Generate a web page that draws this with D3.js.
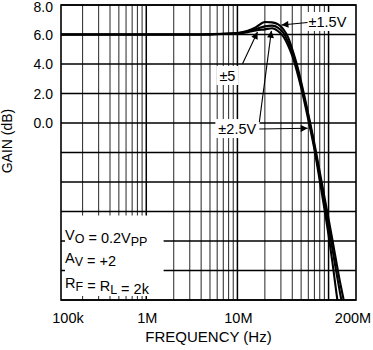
<!DOCTYPE html>
<html><head><meta charset="utf-8">
<script src="https://cdn.jsdelivr.net/npm/d3@7"></script>
<style>
body{margin:0;background:#fff;}
text{font-family:"Liberation Sans",Arial,Helvetica,sans-serif;fill:#000;}
</style></head>
<body><svg id="c" width="373" height="350"></svg>
<script>
// ---- data ----
const freqs = [116e3,1e6,3e6,5e6,7e6,10e6,13e6,16e6,20e6,24e6,28e6,32e6,36e6,40e6,45e6,50e6,60e6,70e6,80e6,90e6,100e6,110e6,120e6,130e6,140e6,150e6,160e6];
const gain15 = [6.0,6.0,6.0,6.02,6.05,6.1,6.25,6.5,6.85,6.82,6.68,6.35,5.8,5.0,3.95,2.8,0.6,-1.4,-3.3,-5.0,-6.5,-7.9,-9.2,-10.4,-11.4,-12.3,-13.2];
const gain5  = [6.0,6.0,6.0,6.01,6.04,6.08,6.2,6.38,6.55,6.6,6.45,6.1,5.5,4.8,3.75,2.6,0.45,-1.6,-3.6,-5.4,-7.0,-8.5,-9.9,-11.1,-12.2,-13.3,-14.4];
const gain25 = [6.0,6.0,6.0,6.01,6.03,6.06,6.15,6.28,6.35,6.42,6.22,5.85,5.25,4.55,3.5,2.4,0.2,-1.8,-3.9,-5.8,-7.6,-9.4,-11.2,-12.8,-14.2,-15.5,-16.8];
const seriesNames = ["±1.5V","±5","±2.5V"];
const xTickLabels = [{f:1e5,t:"100k"},{f:1e6,t:"1M"},{f:1e7,t:"10M"},{f:2e8,t:"200M"}];
const yTickValues = [8,6,4,2,0];
const yGridValues = [-12,-10,-8,-6,-4,-2,0,2,4,6,8];
const xDomain = [116e3, 200e6];
const yDomain = [-12, 8];
// annotations in data units (freq, gain)
const labels = [
  {t:"±1.5V", f:60.3e6, g:6.51},
  {t:"±5",    f:6.34e6, g:2.85},
  {t:"±2.5V", f:6.18e6, g:-0.75}
];
const arrows = [
  {f1:58.8e6,g1:6.81, f2:30.4e6,g2:6.64},
  {f1:11.35e6,g1:4.0, f2:16.6e6,g2:6.17},
  {f1:17.4e6,g1:0.07, f2:23.6e6,g2:6.25},
  {f1:17.4e6,g1:-0.41, f2:59e6,g2:-0.36}
];

// ---- chart ----
const svg = d3.select("#c");
svg.append("rect").attr("width",373).attr("height",350).attr("fill","#fff");
const x = d3.scaleLog().domain(xDomain).range([61,356]);
const y = d3.scaleLinear().domain(yDomain).range([300,5]);
const [x0,x1] = x.range(); const [y0,y1] = y.range();

const defs = svg.append("defs");
defs.append("clipPath").attr("id","clip").append("rect")
  .attr("x",x0).attr("y",y1).attr("width",x1-x0).attr("height",y0-y1);
defs.append("marker").attr("id","ah").attr("viewBox","0 0 10 10")
  .attr("refX",10).attr("refY",5).attr("markerWidth",9).attr("markerHeight",7)
  .attr("markerUnits","userSpaceOnUse").attr("orient","auto")
  .append("path").attr("d","M0,0L10,5L0,10Z").attr("fill","#000");

// vertical grid
const vg = [];
for (let d=1e5; d<=1e8; d*=10) for (let k=1;k<=9;k++){const v=d*k; if(v>xDomain[0]*1.01 && v<xDomain[1]*0.99) vg.push({v,major:k===1});}
svg.append("g").selectAll("line").data(vg).join("line")
  .attr("x1",d=>x(d.v)).attr("x2",d=>x(d.v)).attr("y1",y1).attr("y2",y0)
  .attr("stroke",d=>d.major?"#000":"#3a3a3a").attr("stroke-width",d=>d.major?1.5:1.1);
// horizontal grid
svg.append("g").selectAll("line").data(yGridValues).join("line")
  .attr("x1",x0).attr("x2",x1).attr("y1",d=>y(d)).attr("y2",d=>y(d))
  .attr("stroke","#000").attr("stroke-width",1.4);

// conditions box
const boxL = x0+4, boxR = x(1.55e6), boxT = y(-6)+4, boxB = y(-12)-4;
svg.append("rect").attr("x",boxL).attr("y",boxT).attr("width",boxR-boxL).attr("height",boxB-boxT).attr("fill","#fff");
const cond = svg.append("g").attr("font-size",14.5);
function condLine(g, parts){
  const t = cond.append("text").attr("x",x0+4).attr("y",y(g));
  parts.forEach(p=>{
    if(p.sub){ t.append("tspan").attr("font-size",12.5).attr("dy",3).text(p.s); t.append("tspan").attr("dy",-3).text(""); }
    else t.append("tspan").text(p.s);
  });
}
condLine(-7.95,[{s:"V"},{s:"O",sub:1},{s:" = 0.2V"},{s:"PP",sub:1}]);
condLine(-9.5,[{s:"A"},{s:"V",sub:1},{s:" = +2"}]);
condLine(-11.2,[{s:"R"},{s:"F",sub:1},{s:" = R"},{s:"L",sub:1},{s:" = 2k"}]);

// curves
const line = d3.line().x(d=>x(d[0])).y(d=>y(d[1])).curve(d3.curveMonotoneX);
const cg = svg.append("g").attr("clip-path","url(#clip)");
[gain15,gain5,gain25].forEach((s,i)=>{
  cg.append("path").datum(freqs.map((f,j)=>[f,s[j]])).attr("d",line)
    .attr("fill","none").attr("stroke","#000").attr("stroke-width",2.1).attr("data-name",seriesNames[i]);
});

// border
svg.append("rect").attr("x",x0).attr("y",y1).attr("width",x1-x0).attr("height",y0-y1)
  .attr("fill","none").attr("stroke","#000").attr("stroke-width",1.6);

// annotation labels
const lg = svg.append("g").attr("font-size",14.5);
labels.forEach(l=>{
  const t = lg.append("text").attr("x",x(l.f)).attr("y",y(l.g)).text(l.t);
  const b = t.node().getBBox();
  lg.insert("rect","text").attr("x",b.x-3).attr("y",b.y-2).attr("width",b.width+6).attr("height",b.height+3).attr("fill","#fff");
});
svg.append("g").selectAll("line").data(arrows).join("line")
  .attr("x1",d=>x(d.f1)).attr("y1",d=>y(d.g1)).attr("x2",d=>x(d.f2)).attr("y2",d=>y(d.g2))
  .attr("stroke","#000").attr("stroke-width",1.1).attr("marker-end","url(#ah)");

// tick labels
svg.append("g").attr("font-size",14).attr("text-anchor","end").selectAll("text").data(yTickValues).join("text")
  .attr("x",x0-8).attr("y",d=>Math.max(y(d)+5, 11.5)).text(d=>d.toFixed(1));
svg.append("g").attr("font-size",14.5).attr("text-anchor","middle").selectAll("text").data(xTickLabels).join("text")
  .attr("x",d=>d.f<xDomain[0]?x(xDomain[0])+7:(d.f>=xDomain[1]?x(d.f)-3:x(d.f)+1))
  .attr("y",y0+23).text(d=>d.t);

// axis titles
svg.append("text").attr("font-size",15).attr("text-anchor","middle")
  .attr("x",(x0+x1)/2).attr("y",342).text("FREQUENCY (Hz)");
svg.append("text").attr("font-size",14).attr("text-anchor","middle")
  .attr("transform","translate(12,141) rotate(-90)").text("GAIN (dB)");
</script></body></html>
